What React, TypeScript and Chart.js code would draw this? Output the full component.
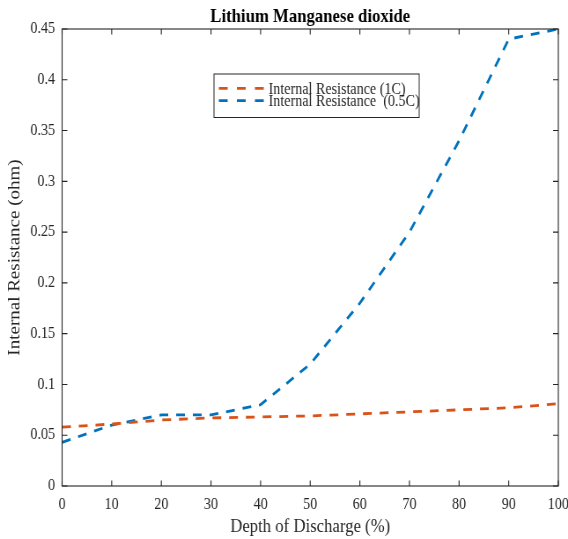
import React, { useEffect, useRef } from "react";
import { Chart, registerables } from "chart.js";

Chart.register(...registerables);

// Depth of discharge (%) and measured internal resistance (ohm)
const depthOfDischarge = [0, 10, 20, 30, 40, 50, 60, 70, 80, 90, 100];
const resistance1C = [0.058, 0.061, 0.065, 0.067, 0.068, 0.069, 0.071, 0.073, 0.075, 0.077, 0.081];
const resistance05C = [0.043, 0.06, 0.07, 0.07, 0.08, 0.12, 0.18, 0.25, 0.34, 0.44, 0.45];

const seriesLabels = ["Internal Resistance (1C)", "Internal Resistance  (0.5C)"];
const seriesColors = ["#D95319", "#0072BD"];

const chartTitle = "Lithium Manganese dioxide";
const xAxisTitle = "Depth of Discharge (%)";
const yAxisTitle = "Internal Resistance (ohm)";

const SERIF = '"Liberation Serif", "Times New Roman", serif';
const AXIS_COLOR = "#262626";

// The figure is drawn on a wider backing canvas and shown narrower,
// giving the condensed look of the exported plot.
const CSS_W = 568;
const CSS_H = 539;
const SQUEEZE = 0.88;
const CANVAS_W = Math.round(CSS_W / SQUEEZE);
const CANVAS_H = CSS_H;

const framePlugin = {
  id: "matlabFrame",
  afterDraw(chart: any) {
    const { ctx, chartArea, scales } = chart;
    const { left, right, top, bottom } = chartArea;
    const xs = scales.x;
    const ys = scales.y;
    ctx.save();

    // axes box
    ctx.strokeStyle = AXIS_COLOR;
    ctx.lineWidth = 1.1;
    ctx.setLineDash([]);
    ctx.strokeRect(left, top, right - left, bottom - top);

    // inward tick marks on all four sides
    ctx.beginPath();
    xs.ticks.forEach((t: any) => {
      const px = xs.getPixelForValue(t.value);
      ctx.moveTo(px, bottom);
      ctx.lineTo(px, bottom - 5.5);
      ctx.moveTo(px, top);
      ctx.lineTo(px, top + 5.5);
    });
    ys.ticks.forEach((t: any) => {
      const py = ys.getPixelForValue(t.value);
      ctx.moveTo(left, py);
      ctx.lineTo(left + 6, py);
      ctx.moveTo(right, py);
      ctx.lineTo(right - 6, py);
    });
    ctx.stroke();

    const cx = (left + right) / 2;
    const cy = (top + bottom) / 2;

    // title
    ctx.fillStyle = "#000";
    ctx.font = `bold 19px ${SERIF}`;
    ctx.textAlign = "center";
    ctx.textBaseline = "alphabetic";
    ctx.fillText(chartTitle, cx, 22);

    // axis titles
    ctx.fillStyle = AXIS_COLOR;
    ctx.font = `19px ${SERIF}`;
    ctx.fillText(xAxisTitle, cx, 532);
    ctx.save();
    ctx.translate(22, cy);
    ctx.rotate(-Math.PI / 2);
    ctx.fillText(yAxisTitle, 0, 0);
    ctx.restore();

    // legend
    const boxL = 243;
    const boxR = 476;
    const boxT = 74;
    const boxB = 117.5;
    ctx.fillStyle = "#fff";
    ctx.fillRect(boxL, boxT, boxR - boxL, boxB - boxT);
    ctx.strokeStyle = AXIS_COLOR;
    ctx.lineWidth = 1;
    ctx.strokeRect(boxL, boxT, boxR - boxL, boxB - boxT);
    const rowLineY = [88.3, 100.7];
    const rowTextY = [93.6, 106];
    ctx.font = `16px ${SERIF}`;
    ctx.textAlign = "left";
    seriesLabels.forEach((label, i) => {
      ctx.strokeStyle = seriesColors[i];
      ctx.lineWidth = 2.8;
      ctx.setLineDash([10, 10.5]);
      ctx.beginPath();
      ctx.moveTo(248.5, rowLineY[i]);
      ctx.lineTo(300, rowLineY[i]);
      ctx.stroke();
      ctx.setLineDash([]);
      ctx.fillStyle = AXIS_COLOR;
      ctx.fillText(label, 305, rowTextY[i]);
    });

    ctx.restore();
  },
};

export default function App() {
  const canvasRef = useRef<HTMLCanvasElement | null>(null);

  useEffect(() => {
    const canvas = canvasRef.current;
    if (!canvas) return;
    const toPoints = (vals: number[]) => depthOfDischarge.map((d, i) => ({ x: d, y: vals[i] }));

    const chart = new Chart(canvas, {
      type: "line",
      data: {
        datasets: [
          {
            label: seriesLabels[0],
            data: toPoints(resistance1C),
            borderColor: seriesColors[0],
            backgroundColor: seriesColors[0],
            borderWidth: 2.8,
            borderDash: [10, 9],
            pointRadius: 0,
            tension: 0,
            fill: false,
          },
          {
            label: seriesLabels[1],
            data: toPoints(resistance05C),
            borderColor: seriesColors[1],
            backgroundColor: seriesColors[1],
            borderWidth: 2.8,
            borderDash: [10, 9],
            pointRadius: 0,
            tension: 0,
            fill: false,
          },
        ],
      },
      options: {
        responsive: false,
        animation: false,
        devicePixelRatio: 1,
        layout: { padding: { left: 0, right: 11, top: 29, bottom: 0 } },
        plugins: {
          legend: { display: false },
          title: { display: false },
          tooltip: { enabled: false },
        },
        scales: {
          x: {
            type: "linear",
            min: 0,
            max: 100,
            grid: { display: false, drawTicks: false },
            border: { display: false },
            ticks: {
              stepSize: 10,
              padding: 9,
              color: AXIS_COLOR,
              font: { family: SERIF, size: 16 },
              maxRotation: 0,
            },
            afterFit(scale: any) {
              scale.height = 53;
              scale.paddingLeft = 0;
              scale.paddingRight = 0;
            },
          },
          y: {
            type: "linear",
            min: 0,
            max: 0.45,
            grid: { display: false, drawTicks: false },
            border: { display: false },
            ticks: {
              stepSize: 0.05,
              padding: 8,
              color: AXIS_COLOR,
              font: { family: SERIF, size: 16 },
              callback: (v: any) => String(Number(Number(v).toFixed(2))),
            },
            afterFit(scale: any) {
              scale.width = 70.5;
              scale.paddingTop = 0;
              scale.paddingBottom = 0;
            },
          },
        },
      },
      plugins: [framePlugin],
    });

    return () => chart.destroy();
  }, []);

  return (
    <div style={{ position: "absolute", left: 0, top: 0, width: CSS_W, height: CSS_H, background: "#fff" }}>
      <canvas
        ref={canvasRef}
        width={CANVAS_W}
        height={CANVAS_H}
        style={{ display: "block", width: `${CSS_W}px`, height: `${CSS_H}px` }}
      />
    </div>
  );
}
